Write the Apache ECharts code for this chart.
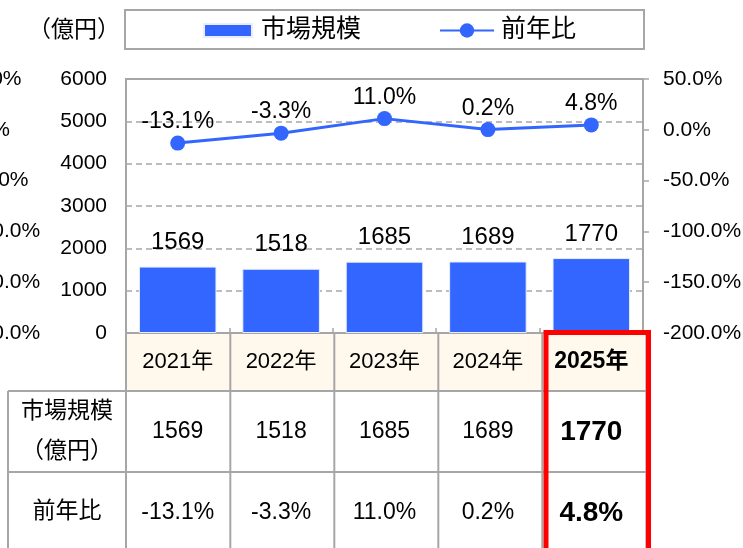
<!DOCTYPE html>
<html>
<head>
<meta charset="utf-8">
<script src="https://cdn.jsdelivr.net/npm/echarts@6/dist/echarts.min.js"></script>
<style>
html,body{margin:0;padding:0;background:#fff;}
#chart{width:743px;height:548px;}
</style>
</head>
<body>
<div id="chart"></div>
<script>
// ---- data ----
const categories = ['2021年', '2022年', '2023年', '2024年', '2025年'];
const marketSize = [1569, 1518, 1685, 1689, 1770];
const yoyGrowth = [-13.1, -3.3, 11.0, 0.2, 4.8];
const leftAxisTicks = [0, 1000, 2000, 3000, 4000, 5000, 6000];
const rightAxisTicks = [-200, -150, -100, -50, 0, 50];
const seriesNames = ['市場規模', '前年比'];
const rowLabels = ['市場規模', '（億円）', '前年比'];

// ---- style ----
const FONT = "'Liberation Sans', Arial, 'Noto Sans CJK JP', sans-serif";
const BLUE = '#3366FF';
const GRAY = '#A6A6A6';
const TXT = '#000';
const pct = v => v.toFixed(1) + '%';
const last = categories.length - 1;

const chart = echarts.init(document.getElementById('chart'), null, {renderer: 'canvas'});

const gridL = 126, gridR = 643, gridT = 79, gridB = 333;
const colX = [126, 230.3, 334.3, 438.3, 542.3, 646.3];
const rowY = [333, 391, 472, 560];

const graphics = [];
// legend box
graphics.push({type: 'rect', shape: {x: 125, y: 10, width: 519, height: 39}, style: {fill: 'none', stroke: GRAY, lineWidth: 2}, z: 1});
// unit label
graphics.push({type: 'text', x: 74, y: 31, style: {
  text: rowLabels[1], align: 'center', verticalAlign: 'middle', font: '23px ' + FONT, fill: TXT
}});
// header cream background
graphics.push({type: 'rect', shape: {x: colX[0], y: rowY[0], width: colX[5] - colX[0], height: rowY[1] - rowY[0]}, style: {fill: '#FFF8EC'}, z: -1});
// table lines
const lineStyle = {stroke: GRAY, lineWidth: 2};
[rowY[1], rowY[2]].forEach(y => graphics.push({type: 'line', shape: {x1: 8, y1: y, x2: colX[5], y2: y}, style: lineStyle}));
graphics.push({type: 'line', shape: {x1: 8, y1: rowY[1], x2: 8, y2: rowY[3]}, style: lineStyle});
colX.forEach(x => graphics.push({type: 'line', shape: {x1: x, y1: rowY[0], x2: x, y2: rowY[3]}, style: lineStyle}));
// row labels
graphics.push({type: 'text', x: 67, y: 412, style: {text: rowLabels[0], align: 'center', verticalAlign: 'middle', font: '23px ' + FONT, fill: TXT}});
graphics.push({type: 'text', x: 67, y: 452, style: {text: rowLabels[1], align: 'center', verticalAlign: 'middle', font: '23px ' + FONT, fill: TXT}});
graphics.push({type: 'text', x: 67, y: 512, style: {text: rowLabels[2], align: 'center', verticalAlign: 'middle', font: '23px ' + FONT, fill: TXT}});
// red highlight box
graphics.push({type: 'rect', shape: {x: 546, y: 332.5, width: 102.5, height: 240}, style: {fill: 'none', stroke: '#FF0000', lineWidth: 5}, z: 100});

const richRow = (size) => ({
  n: {fontSize: size, fontFamily: FONT, color: TXT},
  b: {fontSize: 28, fontFamily: FONT, color: TXT, fontWeight: 'bold'}
});

const option = {
  animation: false,
  backgroundColor: '#fff',
  textStyle: {fontFamily: FONT},
  grid: {left: gridL, top: gridT, width: gridR - gridL, height: gridB - gridT, show: true, borderColor: GRAY, borderWidth: 2,
         containLabel: false, outerBoundsMode: 'none'},
  legend: [
    {data: [seriesNames[0]], left: 203, top: 18, padding: 0, itemWidth: 48, itemHeight: 13, icon: 'rect',
     textStyle: {fontSize: 25, color: TXT, fontFamily: FONT, padding: [0, 0, 0, 4]}},
    {data: [seriesNames[1]], left: 439, top: 18, padding: 0, itemWidth: 54, itemHeight: 18,
     textStyle: {fontSize: 25, color: TXT, fontFamily: FONT, padding: [0, 0, 0, 2]}}
  ],
  xAxis: [
    {type: 'category', data: categories, position: 'bottom',
     axisLine: {show: true, lineStyle: {color: GRAY, width: 2}},
     axisTick: {show: true, inside: true, length: 5, lineStyle: {color: GRAY, width: 1.5}},
     axisLabel: {interval: 0, margin: 29, verticalAlign: 'middle',
       formatter: (v, i) => i === last ? '{b|' + v + '}' : '{n|' + v + '}',
       rich: {n: {fontSize: 22, fontFamily: FONT, color: TXT}, b: {fontSize: 23, fontFamily: FONT, color: TXT, fontWeight: 'bold'}}}},
    {type: 'category', data: categories, position: 'bottom', offset: 58,
     axisLine: {show: false}, axisTick: {show: false},
     axisLabel: {interval: 0, margin: 41, verticalAlign: 'middle',
       formatter: (v, i) => i === last ? '{b|' + marketSize[i] + '}' : '{n|' + marketSize[i] + '}',
       rich: richRow(23)}},
    {type: 'category', data: categories, position: 'bottom', offset: 139,
     axisLine: {show: false}, axisTick: {show: false},
     axisLabel: {interval: 0, margin: 41, verticalAlign: 'middle',
       formatter: (v, i) => i === last ? '{b|' + pct(yoyGrowth[i]) + '}' : '{n|' + pct(yoyGrowth[i]) + '}',
       rich: richRow(23)}}
  ],
  yAxis: [
    {type: 'value', position: 'left', min: leftAxisTicks[0], max: leftAxisTicks[leftAxisTicks.length - 1],
     interval: leftAxisTicks[1] - leftAxisTicks[0],
     axisLine: {show: true, lineStyle: {color: GRAY, width: 2}}, axisTick: {show: false},
     axisLabel: {fontSize: 21, color: TXT, margin: 19, fontFamily: FONT, formatter: v => String(v)},
     splitLine: {show: true, lineStyle: {color: GRAY, width: 1.5, type: [6, 4]}}},
    {type: 'value', position: 'right', min: rightAxisTicks[0], max: rightAxisTicks[rightAxisTicks.length - 1],
     interval: rightAxisTicks[1] - rightAxisTicks[0],
     axisLine: {show: true, lineStyle: {color: GRAY, width: 2}},
     axisTick: {show: true, length: 6, lineStyle: {color: GRAY, width: 1.5}},
     axisLabel: {fontSize: 21, color: TXT, margin: 20, fontFamily: FONT, formatter: v => pct(v)},
     splitLine: {show: false}},
    {type: 'value', position: 'left', min: rightAxisTicks[0], max: rightAxisTicks[rightAxisTicks.length - 1],
     interval: rightAxisTicks[1] - rightAxisTicks[0],
     axisLine: {show: false}, axisTick: {show: false}, splitLine: {show: false},
     axisLabel: {fontSize: 21, color: TXT, margin: 164, align: 'left', fontFamily: FONT, formatter: v => pct(v)}}
  ],
  series: [
    {name: seriesNames[0], type: 'bar', data: marketSize, xAxisIndex: 0, yAxisIndex: 0, barWidth: '75%',
     itemStyle: {color: BLUE, borderColor: '#E8EEFF', borderWidth: 1},
     label: {show: true, position: 'top', distance: 12, fontSize: 24, color: TXT, fontFamily: FONT}, z: 2},
    {name: seriesNames[1], type: 'line', data: yoyGrowth, xAxisIndex: 0, yAxisIndex: 1,
     symbol: 'circle', symbolSize: 15, lineStyle: {color: BLUE, width: 3}, itemStyle: {color: BLUE},
     label: {show: true, position: 'top', distance: 2, fontSize: 23, color: TXT, fontFamily: FONT, formatter: p => pct(p.value)}, z: 3}
  ],
  graphic: graphics
};
chart.setOption(option);
</script>
</body>
</html>
